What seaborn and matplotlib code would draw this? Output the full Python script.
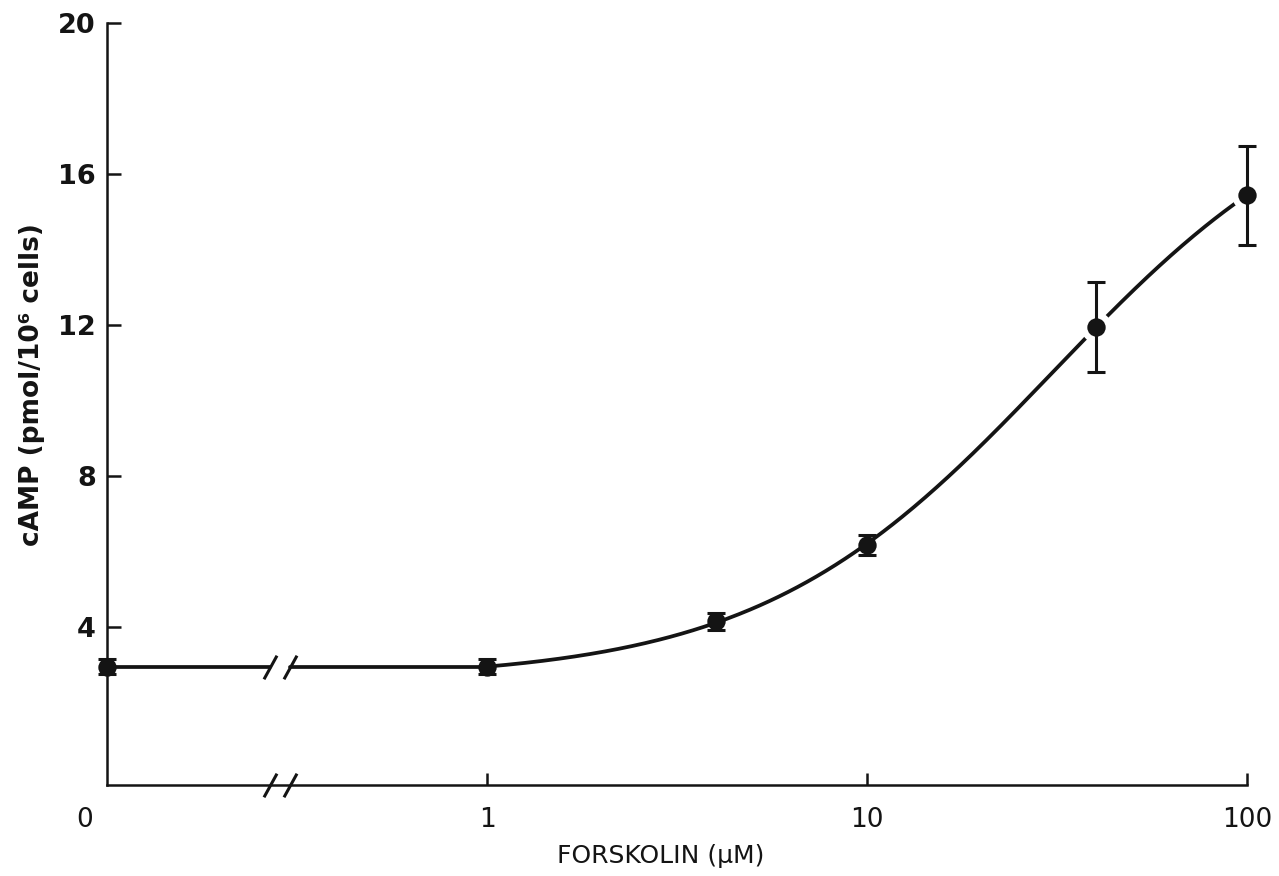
import numpy as np
import pandas as pd
import matplotlib
matplotlib.use("Agg")
import matplotlib.pyplot as plt
import seaborn as sns
from matplotlib.ticker import NullLocator

# ---------------- data ----------------
concentration_uM = [0, 1, 4, 10, 40, 100]
camp_mean = [2.95, 2.95, 4.15, 6.17, 11.94, 15.43]
camp_err = [0.2, 0.2, 0.23, 0.27, 1.2, 1.31]
x_ticks = [1, 10, 100]
x_tick_labels = ["1", "10", "100"]
zero_label = "0"
y_ticks = [4, 8, 12, 16, 20]
x_label = "FORSKOLIN (\u03bcM)"
y_label = "cAMP (pmol/10\u2076 cells)"

# ---------------- layout / style constants ----------------
ZERO_POS = 0.1              # where the "0" dose sits on the log axis
BREAK_POS = (0.2685, 0.303)  # axis-break slashes
HALO_IDX = [4, 5]           # points where the drawn curve stops short of the marker
INK = "#141414"

sns.set_theme(style="ticks")
plt.rcParams["font.family"] = ["DejaVu Sans"]

fig = plt.figure(figsize=(12.79, 8.76), dpi=100)
fig.patch.set_facecolor("white")
ax = fig.add_axes([107 / 1279, 1 - 785 / 876, 1140 / 1279, (785 - 22.7) / 876])
ax.set_facecolor("white")
ax.set_xscale("log")
ax.set_xlim(ZERO_POS, 100)
ax.set_ylim(-0.185, 20)

df = pd.DataFrame({"conc": concentration_uM, "camp": camp_mean, "err": camp_err})
df["xpos"] = df["conc"].where(df["conc"] > 0, ZERO_POS)

# ---------------- fitted dose-response curve (Hill, least squares grid) ----------------
pos = df[df["conc"] >= 1]
xv = pos["conc"].to_numpy(float)
yv = pos["camp"].to_numpy(float)
xr, d = xv[1:], yv[1:] - yv[0]
E = np.logspace(0.5, 2.5, 400)[:, None, None]
N = np.linspace(0.5, 3.0, 251)[None, :, None]


def hill(x, e, n):
    return x ** n / (e ** n + x ** n)


g = hill(xr[None, None, :], E, N) - hill(1.0, E, N)
a = (g * d).sum(-1) / (g * g).sum(-1)
res = ((a[..., None] * g - d) ** 2).sum(-1)
i, j = np.unravel_index(res.argmin(), res.shape)
e_fit, n_fit, a_fit = E[i, 0, 0], N[0, j, 0], a[i, j]
xs = np.logspace(0, 2, 400)
ys = yv[0] + a_fit * (hill(xs, e_fit, n_fit) - hill(1.0, e_fit, n_fit))

sns.lineplot(x=xs, y=ys, ax=ax, color=INK, lw=2.7, sort=False, estimator=None, zorder=2)

# flat segment from 0 dose to 1 uM, with a break
y0 = df["camp"].iloc[0]
y1 = df["camp"].iloc[1]
seg_y = np.interp(np.log10(BREAK_POS), [np.log10(ZERO_POS), 0.0], [y0, y1])
sns.lineplot(x=[ZERO_POS, BREAK_POS[0]], y=[y0, seg_y[0]], ax=ax, color=INK, lw=2.7,
             sort=False, estimator=None, zorder=2)
sns.lineplot(x=[BREAK_POS[1], 1.0], y=[seg_y[1], y1], ax=ax, color=INK, lw=2.7,
             sort=False, estimator=None, zorder=2)

slash = [(-0.55, -1.0), (0.55, 1.0)]
ax.plot(BREAK_POS, seg_y, ls="none", marker=slash, ms=17, mew=2.2, color=INK, zorder=6)
ax.plot(BREAK_POS, [ax.get_ylim()[0]] * 2, ls="none", marker=slash, ms=17, mew=2.2,
        color=INK, zorder=6, clip_on=False)

# white halo where the curve is interrupted next to the marker
halo = df.iloc[HALO_IDX]
sns.scatterplot(data=halo, x="xpos", y="camp", ax=ax, s=175, color="white",
                edgecolor="white", linewidth=9, zorder=3, clip_on=False, legend=False)

# error bars and points
eb = ax.errorbar(df["xpos"], df["camp"], yerr=df["err"], fmt="none", ecolor=INK,
                 elinewidth=2.2, capsize=6.5, capthick=2.2, zorder=4)
for art in eb.get_children():
    art.set_clip_on(False)
sns.scatterplot(data=df, x="xpos", y="camp", ax=ax, s=175, color=INK, edgecolor=INK,
                linewidth=0, zorder=5, clip_on=False, legend=False)

# ---------------- axes styling ----------------
ax.spines[["top", "right"]].set_visible(False)
for s in ("left", "bottom"):
    ax.spines[s].set_linewidth(1.8)
    ax.spines[s].set_color(INK)

ax.set_xticks(x_ticks)
ax.set_xticklabels(x_tick_labels)
ax.xaxis.set_minor_locator(NullLocator())
ax.tick_params(axis="x", direction="in", length=9, width=1.8, pad=16, labelsize=19,
               colors=INK)
ax.annotate(zero_label, xy=(ZERO_POS, 0), xycoords=ax.get_xaxis_transform(),
            xytext=(-16, -16), textcoords="offset points", ha="center", va="top",
            fontsize=19, color=INK, annotation_clip=False)

ax.set_yticks(y_ticks)
ax.tick_params(axis="y", direction="in", length=10, width=1.8, pad=8, labelsize=19.5,
               colors=INK)
for lbl in ax.get_yticklabels():
    lbl.set_fontweight("bold")

ax.set_xlabel(x_label, fontsize=18, color=INK)
ax.xaxis.set_label_coords(0.486, -0.0774)
ax.set_ylabel(y_label, fontsize=19, fontweight="bold", color=INK, va="center")
ax.yaxis.set_label_coords(-0.066, 0.525)

fig.savefig("out.png", dpi=100, facecolor="white")
